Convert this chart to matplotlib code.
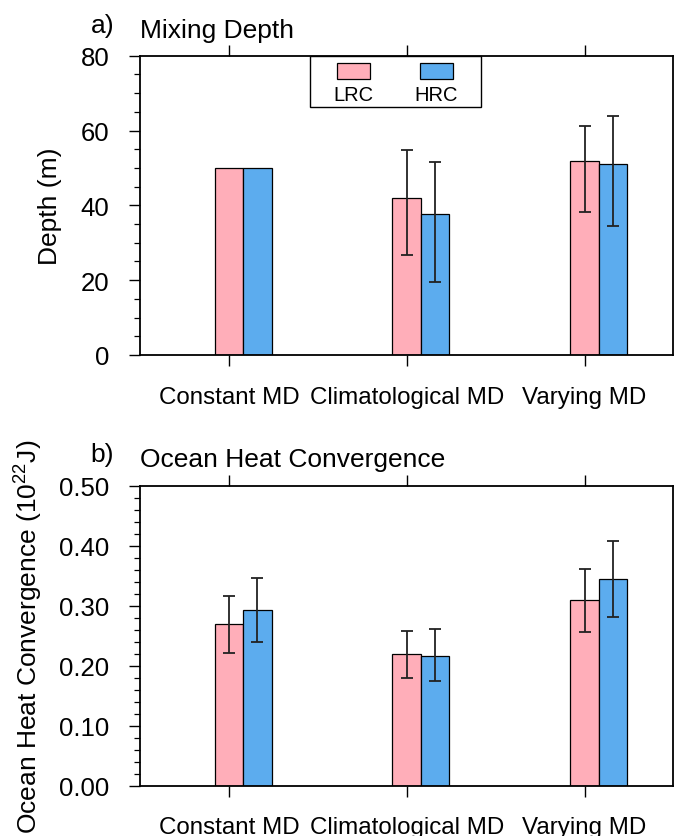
import matplotlib
matplotlib.use("Agg")
import matplotlib.pyplot as plt
import numpy as np
from matplotlib.patches import Rectangle
from matplotlib.ticker import MultipleLocator

plt.rcParams['font.family'] = ['Liberation Sans', 'DejaVu Sans']
plt.rcParams['mathtext.fontset'] = 'custom'
plt.rcParams['mathtext.rm'] = 'Liberation Sans'
plt.rcParams['mathtext.it'] = 'Liberation Sans'

categories = ["Constant MD", "Climatological MD", "Varying MD"]
series = ["LRC", "HRC"]
colors = ["#FFAEB9", "#5CACEE"]

# Panel a: Mixing depth (m)
md_lrc = [50.0, 42.0, 51.8]
md_hrc = [50.0, 37.6, 51.0]
md_lrc_lo = [50.0, 26.6, 38.1]
md_lrc_hi = [50.0, 54.9, 61.2]
md_hrc_lo = [50.0, 19.4, 34.4]
md_hrc_hi = [50.0, 51.5, 63.8]

# Panel b: Ocean heat convergence (1e22 J)
oh_lrc = [0.269, 0.219, 0.310]
oh_hrc = [0.293, 0.217, 0.345]
oh_lrc_lo = [0.222, 0.180, 0.257]
oh_lrc_hi = [0.316, 0.258, 0.362]
oh_hrc_lo = [0.240, 0.175, 0.281]
oh_hrc_hi = [0.346, 0.261, 0.408]

W, H = 674, 837
fig = plt.figure(figsize=(W / 100, H / 100), dpi=100)

def frac(x0, y0, x1, y1):
    return [x0 / W, 1 - y1 / H, (x1 - x0) / W, (y1 - y0) / H]

ax_a = fig.add_axes(frac(140, 56.7, 673.4, 356))
ax_b = fig.add_axes(frac(140, 486.7, 673.4, 786.7))

FS_CAT = 17.4
FS_TICK = 18.5
FS_TITLE = 19
FS_YLAB = 19
bw = 0.16
x = np.arange(len(categories))

def draw(ax, lrc, hrc, llo, lhi, hlo, hhi, ylim, major, minor, fmt):
    for i, (vals, lo, hi, col) in enumerate([(lrc, llo, lhi, colors[0]), (hrc, hlo, hhi, colors[1])]):
        xs = x + i * bw
        ax.bar(xs, vals, width=bw, color=col, edgecolor='black', linewidth=0.9, zorder=2)
        vals = np.array(vals); lo = np.array(lo); hi = np.array(hi)
        mask = (hi - lo) > 0
        ax.errorbar(xs[mask], vals[mask], yerr=[vals[mask] - lo[mask], hi[mask] - vals[mask]],
                    fmt='none', ecolor='#222222', elinewidth=1.3, capsize=4, capthick=1.3, zorder=3)
    ax.set_xlim(-0.5, 2.5)
    ax.set_ylim(*ylim)
    ax.set_xticks(x)
    ax.set_xticklabels(categories, fontsize=FS_CAT)
    ax.yaxis.set_major_locator(MultipleLocator(major))
    ax.yaxis.set_minor_locator(MultipleLocator(minor))
    ax.yaxis.set_major_formatter(plt.FormatStrFormatter(fmt))
    ax.tick_params(axis='both', which='major', direction='out', length=8, width=1.0)
    ax.tick_params(axis='x', top=True, pad=14, labelsize=FS_CAT)
    ax.tick_params(axis='y', which='minor', direction='out', length=4, width=0.9)
    ax.tick_params(axis='y', which='major', pad=14, labelsize=FS_TICK)
    for s in ax.spines.values():
        s.set_linewidth(1.3)

draw(ax_a, md_lrc, md_hrc, md_lrc_lo, md_lrc_hi, md_hrc_lo, md_hrc_hi,
     (0, 80), 20, 5, '%d')
draw(ax_b, oh_lrc, oh_hrc, oh_lrc_lo, oh_lrc_hi, oh_hrc_lo, oh_hrc_hi,
     (0, 0.5), 0.1, 0.02, '%.2f')

ax_a.set_ylabel("Depth (m)", fontsize=FS_YLAB)
ax_a.yaxis.set_label_coords(-0.146, 0.5)
ax_b.set_ylabel("Ocean Heat Convergence (10$^{22}$J)", fontsize=FS_YLAB)
ax_b.yaxis.set_label_coords(-0.178, 0.5)

ax_a.text(0.0, 1.0 + 18.7 / 299.3, "Mixing Depth", transform=ax_a.transAxes,
          fontsize=FS_TITLE, ha='left', va='baseline')
ax_a.text(-26 / 533.4, 1.0 + 23.7 / 299.3, "a)", transform=ax_a.transAxes,
          fontsize=FS_TITLE, ha='right', va='baseline')
ax_b.text(0.0, 1.0 + 19.7 / 300, "Ocean Heat Convergence", transform=ax_b.transAxes,
          fontsize=FS_TITLE, ha='left', va='baseline')
ax_b.text(-26 / 533.4, 1.0 + 24.7 / 300, "b)", transform=ax_b.transAxes,
          fontsize=FS_TITLE, ha='right', va='baseline')

# Legend (manual, NCL style)
ax_a.add_patch(Rectangle((0.318, 0.8276), 0.640 - 0.318, 1.0 - 0.8276, transform=ax_a.transAxes,
                         facecolor='white', edgecolor='black', linewidth=1.0, zorder=4, clip_on=False))
for cx, col, lab in [(0.401, colors[0], series[0]), (0.556, colors[1], series[1])]:
    ax_a.add_patch(Rectangle((cx - 0.031, 0.922), 0.062, 0.053, transform=ax_a.transAxes,
                             facecolor=col, edgecolor='black', linewidth=0.9, zorder=5))
    ax_a.text(cx, 0.872, lab, transform=ax_a.transAxes, fontsize=14.5,
              ha='center', va='center', zorder=6)

fig.savefig("out.png", dpi=100)
